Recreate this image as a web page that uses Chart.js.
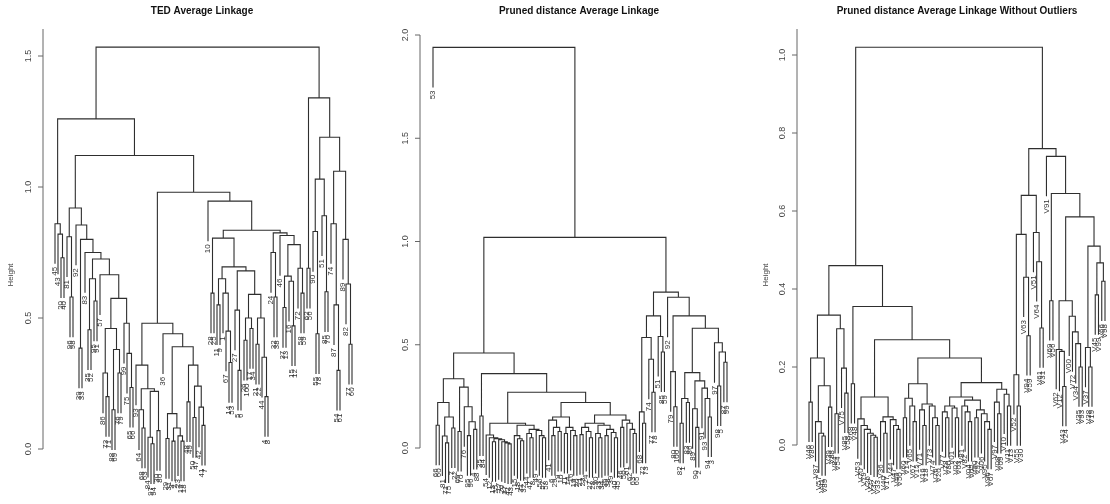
<!DOCTYPE html>
<html>
<head>
<meta charset="utf-8">
<script src="https://cdn.jsdelivr.net/npm/chart.js@4.4.1/dist/chart.umd.min.js"></script>
<style>
  body { margin: 0; background: #fff; }
  #wrap { position: relative; width: 1110px; height: 504px; }
  #wrap canvas { position: absolute; top: 0; }
</style>
</head>
<body>
<div id="wrap">
  <canvas id="ted" width="370" height="504" style="left:0px"></canvas>
  <canvas id="pruned" width="370" height="504" style="left:370px"></canvas>
  <canvas id="noOut" width="370" height="504" style="left:740px"></canvas>
</div>
<script>
// Dendrograms: a leaf is its label, a merge is [height, left, right]

// ---- TED, average linkage ----
const tedTitle = 'TED Average Linkage';
const tedTicks = [0, 0.5, 1.0, 1.5];
const tedA1 = [0.86, '45', [0.82, '43', [0.73, '20', '40']]];
const tedB1 = [0.81, '81', [0.58, '96', '98']];
const tedB2 = [0.855, '92',
  [0.80, [0.385, '39', '33'],
    [0.75, '83',
      [0.725,
        [0.65, [0.455, '35', '52'], [0.565, '95', '91']],
        [0.665, '57',
          [0.575,
            [0.46, [0.29, '86', [0.20, '73', '71']], [0.38, [0.15, '88', '69'], [0.29, '76', '79']]],
            [0.48, '99', [0.365, '75', [0.235, '65', '66']]]]]]]]];
const tedC1 = [0.48,
  [0.32, '93', [0.23, [0.15, '64', [0.08, '68', '63']], [0.22, [0.045, '84', [0.02, '97', '94']], [0.07, '30', '80']]]],
  [0.44, '36',
    [0.39,
      [0.135, [0.04, '29', '31'], [0.08, [0.03, '3', '2'], [0.05, '23', [0.03, '19', '18']]]],
      [0.32, [0.18, '48', '49'], [0.24, [0.12, '50', '47'], [0.16, '42', [0.09, '41', '7']]]]]]];
const tedC2 = [0.946, '10',
  [0.835,
    [0.805, [0.595, '28', '25'],
      [0.695,
        [0.65, [0.55, '11', '9'], [0.595, '1', [0.45, '67', [0.33, '14', '53']]]],
        [0.68, [0.53, '27', [0.3, '5', '6']],
          [0.59, [0.50, [0.415, '26', '100'], [0.46, '17', '34']], [0.50, [0.40, '21', '22'], [0.35, '44', [0.2, '4', '8']]]]]]],
    [0.825, [0.75, '24', [0.58, '32', '38']],
      [0.815, '46',
        [0.78, [0.66, [0.54, '37', '13'], [0.64, '16', [0.47, '15', '12']]], [0.69, '72', [0.595, '58', '59']]]]]]];
const tedR = [1.34, [0.69, '62', '56'],
  [1.19,
    [1.03, [0.83, '90', [0.44, '55', '78']], [0.89, '51', [0.6, '85', '70']]],
    [1.06, [0.86, '74', [0.55, '87', [0.3, '54', '61']]], [0.80, '89', [0.63, '82', [0.4, '77', '60']]]]]];
const tedTree = [1.534, [1.26, tedA1, [1.12, [0.92, tedB1, tedB2], [0.98, tedC1, tedC2]]], tedR];

// ---- pruned distance, average linkage ----
const prunedTitle = 'Pruned distance Average Linkage';
const prunedTicks = [0, 0.5, 1.0, 1.5, 2.0];
const prunedL1 = [0.335,
  [0.22, [0.11, '66', '60'], [0.15, [0.058, '81', [0.025, '71', '75']], [0.097, '7', '22']]],
  [0.295, [0.08, '69', '70'], [0.2, '76', [0.127, [0.06, '95', '96'], [0.09, '4', '88']]]]];
const prunedL2a = [0.155, '35', '84'];
const prunedB1 = [0.12,
  [0.063, '54', [0.05, '12', [0.045, [0.03, '13', '25'], [0.04, '17', [0.03, '26', [0.025, '37', [0.02, '42', '43']]]]]]],
  [0.11, [0.06, '15', [0.045, '18', [0.035, '31', '32']]],
    [0.09, [0.07, '44', [0.05, '47', '8']], [0.085, '49', [0.06, '56', [0.05, '57', '58']]]]]];
const prunedB2 = [0.22,
  [0.15, [0.135, '41', [0.1, [0.06, '6', '29'], [0.08, '9', '10']]], [0.1, [0.07, '11', '14'], [0.085, '16', [0.06, '19', '20']]]],
  [0.16,
    [0.12, [0.1, [0.065, '21', '23'], [0.08, '24', [0.05, '27', '28']]],
      [0.11, [0.07, '30', [0.05, '33', '34']], [0.09, [0.06, '36', '38'], [0.075, '39', [0.05, '40', '45']]]]],
    [0.135, [0.1, '46', '50'], [0.12, '61', [0.09, '62', [0.07, '63', '65']]]]]];
const prunedRr = [0.755,
  [0.64, [0.535, [0.175, '68', [0.12, '72', '73']], [0.43, '74', [0.27, '77', '78']]], [0.54, '51', [0.465, '85', '59']]],
  [0.73, '92',
    [0.64, [0.37, '79', [0.2, '80', '100']],
      [0.58,
        [0.365, [0.24, [0.12, '82', '1'], [0.22, '83', '86']],
          [0.325, [0.19, '89', [0.1, '90', '2']], [0.29, '91', [0.24, '93', [0.15, '94', '3']]]]],
        [0.51, '97', [0.465, [0.3, '98', '5'], [0.415, '87', '99']]]]]]];
const prunedTree = [1.94, '53',
  [1.02, [0.46, prunedL1, [0.36, prunedL2a, [0.27, prunedB1, prunedB2]]], prunedRr]];

// ---- pruned distance without outliers ----
const cleanTitle = 'Pruned distance Average Linkage Without Outliers';
const cleanTicks = [0, 0.2, 0.4, 0.6, 0.8, 1.0];
const cleanW1 = [0.333,
  [0.223, [0.11, 'V46', 'V86'], [0.152, [0.06, 'V87', [0.03, 'V57', [0.023, 'V41', 'V89']]], [0.097, 'V39', 'V88']]],
  [0.298, [0.08, 'V84', 'V54'], [0.197, 'V75', [0.133, 'V85', 'V58']]]];
const cleanW2a = [0.123,
  [0.067, 'V53', [0.05, 'V70', [0.04, 'V79', [0.03, 'V26', [0.025, 'V27', [0.02, 'V32', 'V33']]]]]],
  [0.072, [0.06, 'V36', [0.03, 'V40', 'V17']], [0.065, 'V44', [0.05, 'V47', [0.04, 'V49', 'V50']]]]];
const cleanW2b1 = [0.157,
  [0.12, [0.07, 'V60', 'V14'], [0.1, 'V65', [0.06, 'V67', 'V15']]],
  [0.105, [0.09, 'V71', [0.05, 'V16', 'V18']], [0.1, 'V73', [0.07, 'V74', [0.05, 'V76', 'V20']]]]];
const cleanW2b2 = [0.16,
  [0.123,
    [0.1, [0.085, 'V77', [0.07, 'V78', 'V80']], [0.095, 'V01', [0.07, 'V02', 'V03']]],
    [0.115, [0.1, 'V81', [0.085, 'V82', [0.06, 'V04', 'V05']]], [0.09, [0.07, 'V90', 'V92'], [0.08, 'V06', [0.06, 'V95', [0.04, 'V96', 'V07']]]]]],
  [0.143, [0.11, 'V97', [0.08, 'V08', 'V09']], [0.13, 'V10', [0.1, 'V11', 'V13']]]];
const cleanV = [0.76,
  [0.64, [0.54, [0.18, 'V52', [0.1, 'V55', 'V30']], [0.43, 'V63', [0.28, 'V94', 'V59']]], [0.545, 'V51', [0.47, 'V64', [0.3, 'V61', 'V31']]]],
  [0.74, 'V91',
    [0.645, [0.37, 'V69', 'V56'],
      [0.585,
        [0.37, [0.245, 'V62', [0.24, 'V12', [0.15, 'V43', 'V24']]], [0.33, 'V00', [0.29, 'V72', [0.26, 'V34', [0.2, 'V35', 'V93']]]]],
        [0.51, [0.25, 'V37', [0.2, 'V38', 'V19']], [0.467, [0.385, 'V45', 'V99'], [0.42, 'V66', 'V98']]]]]]];
const cleanTree = [1.02,
  [0.46, cleanW1, [0.355, [0.157, 'V68', 'V48'], [0.27, cleanW2a, [0.223, cleanW2b1, cleanW2b2]]]],
  cleanV];

// walk the tree: leaves get consecutive x slots, merges sit midway between children
function layoutTree(tree) {
  const hang = 0.1 * tree[0];
  let slot = 0;
  const points = [], leaves = [];
  function walk(n) {
    if (!Array.isArray(n)) return { x: slot++, leaf: true, label: n };
    const h = n[0];
    const a = walk(n[1]), b = walk(n[2]);
    const bottom = c => c.leaf ? h - hang : c.h;
    [a, b].forEach(c => { if (c.leaf) leaves.push({ x: c.x, y: h - hang, label: c.label }); });
    points.push({ x: a.x, y: bottom(a) }, { x: a.x, y: h }, { x: b.x, y: h }, { x: b.x, y: bottom(b) }, { x: b.x, y: null });
    return { x: (a.x + b.x) / 2, h: h };
  }
  walk(tree);
  return { points, leaves, count: slot };
}

const dendroPlugin = {
  id: 'dendro',
  afterDatasetsDraw(chart, args, o) {
    const ctx = chart.ctx, ys = chart.scales.y, xs = chart.scales.x;
    ctx.save();
    // y axis
    ctx.strokeStyle = '#666';
    ctx.lineWidth = 1;
    ctx.beginPath();
    ctx.moveTo(o.axisX, ys.getPixelForValue(0));
    ctx.lineTo(o.axisX, ys.getPixelForValue(ys.max));
    o.ticks.forEach(t => {
      const py = ys.getPixelForValue(t);
      ctx.moveTo(o.axisX - 5, py);
      ctx.lineTo(o.axisX, py);
    });
    ctx.stroke();
    ctx.fillStyle = '#444';
    ctx.font = '9px "Liberation Sans", Arial, sans-serif';
    ctx.textAlign = 'center';
    ctx.textBaseline = 'middle';
    o.ticks.forEach(t => {
      ctx.save();
      ctx.translate(o.axisX - 14, ys.getPixelForValue(t));
      ctx.rotate(-Math.PI / 2);
      ctx.fillText(t.toFixed(1), 0, 0);
      ctx.restore();
    });
    if (o.ylabelX) {
      ctx.save();
      ctx.font = '8px "Liberation Sans", Arial, sans-serif';
      ctx.translate(o.ylabelX, 275);
      ctx.rotate(-Math.PI / 2);
      ctx.fillText('Height', 0, 0);
      ctx.restore();
    }
    // leaf labels hang below the leaf ends
    ctx.fillStyle = '#333';
    ctx.font = '8px "Liberation Sans", Arial, sans-serif';
    ctx.textAlign = 'right';
    o.leaves.forEach(l => {
      ctx.save();
      ctx.translate(xs.getPixelForValue(l.x), ys.getPixelForValue(l.y) + 3);
      ctx.rotate(-Math.PI / 2);
      ctx.fillText(l.label, 0, 0);
      ctx.restore();
    });
    // title
    ctx.fillStyle = '#111';
    ctx.font = 'bold 10px "Liberation Sans", Arial, sans-serif';
    ctx.textAlign = 'center';
    ctx.fillText(o.title, o.titleX, 11);
    ctx.restore();
  }
};

const panels = [
  { id: 'ted', title: tedTitle, tree: tedTree, ticks: tedTicks, left: 55, right: 352, zeroY: 449, unit: 262, top: 29, axisX: 43, titleX: 202, ylabelX: 11 },
  { id: 'pruned', title: prunedTitle, tree: prunedTree, ticks: prunedTicks, left: 63, right: 357, zeroY: 448, unit: 206.5, top: 35, axisX: 50, titleX: 209, ylabelX: 0 },
  { id: 'noOut', title: cleanTitle, tree: cleanTree, ticks: cleanTicks, left: 69, right: 365, zeroY: 445, unit: 390, top: 29, axisX: 57, titleX: 217, ylabelX: 26 }
];

panels.forEach(p => {
  const lay = layoutTree(p.tree);
  const bottomPx = 500;
  new Chart(document.getElementById(p.id).getContext('2d'), {
    type: 'line',
    data: {
      datasets: [{
        data: lay.points,
        borderColor: '#2e2e2e',
        borderWidth: 1.1,
        pointRadius: 0,
        spanGaps: false,
        tension: 0,
        fill: false,
        clip: false
      }]
    },
    options: {
      responsive: false,
      animation: false,
      events: [],
      layout: { padding: { left: p.left, right: 370 - p.right, top: p.top, bottom: 504 - bottomPx } },
      scales: {
        x: { type: 'linear', display: false, min: 0, max: lay.count - 1 },
        y: { type: 'linear', display: false, min: -(bottomPx - p.zeroY) / p.unit, max: (p.zeroY - p.top) / p.unit }
      },
      plugins: {
        legend: { display: false },
        tooltip: { enabled: false },
        dendro: { axisX: p.axisX, ticks: p.ticks, leaves: lay.leaves, title: p.title, titleX: p.titleX, ylabelX: p.ylabelX }
      }
    },
    plugins: [dendroPlugin]
  });
});
</script>
</body>
</html>
